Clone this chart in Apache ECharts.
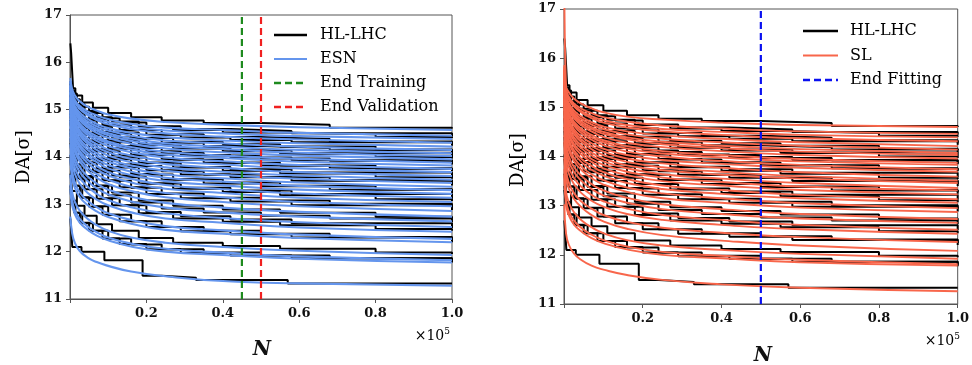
<!DOCTYPE html>
<html>
<head>
<meta charset="utf-8">
<script src="https://cdn.jsdelivr.net/npm/echarts@6/dist/echarts.min.js"></script>
<style>
html,body{margin:0;padding:0;background:#fff;}
#chart{width:972px;height:365px;}
</style>
</head>
<body>
<div id="chart"></div>
<script>
// N in units of 1e5
const N_SAMPLES = [0.001, 0.005, 0.012, 0.025, 0.045, 0.07, 0.1, 0.16, 0.25, 0.4, 0.6, 1.0];

// step positions of the HL-LHC staircases
const STEPS_TOP = [0.001, 0.003, 0.008, 0.014, 0.032, 0.06, 0.1, 0.16, 0.24, 0.35, 0.5, 0.68, 1.0];
const STEPS_A = [0.001, 0.005, 0.014, 0.032, 0.06, 0.1, 0.16, 0.24, 0.35, 0.5, 0.68, 1.0];
const STEPS_B = [0.001, 0.004, 0.011, 0.026, 0.05, 0.085, 0.13, 0.2, 0.29, 0.42, 0.58, 1.0];
const STEPS_C = [0.001, 0.006, 0.018, 0.038, 0.07, 0.11, 0.18, 0.27, 0.4, 0.55, 0.8, 1.0];
const STEPS_LOW = [0.001, 0.006, 0.03, 0.09, 0.19, 0.24, 0.33, 0.57, 1.0];

const hlLhcN = [STEPS_TOP, STEPS_B, STEPS_C, STEPS_A, STEPS_B, STEPS_C, STEPS_A, STEPS_B, STEPS_C, STEPS_A,
  STEPS_B, STEPS_C, STEPS_A, STEPS_B, STEPS_C, STEPS_A, STEPS_B, STEPS_C, STEPS_A, STEPS_B,
  STEPS_C, STEPS_A, STEPS_B, STEPS_C, STEPS_A, STEPS_B, STEPS_C, STEPS_A, STEPS_B, STEPS_C,
  STEPS_A, STEPS_B, STEPS_LOW];

// HL-LHC DA values at each step
const hlLhcDA = [
  [16.4, 16.2, 15.45, 15.3, 15.15, 15.04, 14.93, 14.84, 14.77, 14.72, 14.68, 14.62, 14.6],
  [15.59, 15.41, 15.22, 15.06, 14.93, 14.82, 14.73, 14.65, 14.59, 14.55, 14.5, 14.44],
  [15.6, 15.34, 15.12, 14.97, 14.84, 14.75, 14.64, 14.57, 14.52, 14.48, 14.42, 14.4],
  [15.58, 15.32, 15.11, 14.93, 14.8, 14.67, 14.57, 14.48, 14.42, 14.38, 14.33, 14.28],
  [15.54, 15.33, 15.12, 14.94, 14.8, 14.67, 14.57, 14.47, 14.41, 14.36, 14.31, 14.24],
  [15.48, 15.18, 14.94, 14.77, 14.63, 14.52, 14.4, 14.32, 14.27, 14.22, 14.16, 14.13],
  [15.48, 15.2, 14.98, 14.78, 14.64, 14.5, 14.39, 14.3, 14.23, 14.19, 14.14, 14.08],
  [15.45, 15.22, 14.99, 14.78, 14.62, 14.48, 14.36, 14.26, 14.19, 14.14, 14.08, 14.0],
  [15.47, 15.14, 14.87, 14.68, 14.53, 14.41, 14.27, 14.18, 14.12, 14.07, 14.0, 13.97],
  [15.36, 15.06, 14.82, 14.61, 14.46, 14.31, 14.19, 14.09, 14.03, 13.97, 13.92, 13.86],
  [15.39, 15.14, 14.89, 14.68, 14.51, 14.35, 14.23, 14.12, 14.04, 13.99, 13.93, 13.84],
  [15.32, 14.97, 14.68, 14.48, 14.31, 14.18, 14.04, 13.94, 13.88, 13.82, 13.75, 13.72],
  [15.3, 14.98, 14.72, 14.5, 14.34, 14.18, 14.05, 13.95, 13.88, 13.82, 13.76, 13.7],
  [15.23, 14.97, 14.7, 14.47, 14.29, 14.12, 13.99, 13.88, 13.79, 13.74, 13.67, 13.58],
  [15.24, 14.87, 14.56, 14.35, 14.17, 14.03, 13.88, 13.78, 13.71, 13.65, 13.57, 13.54],
  [15.14, 14.8, 14.53, 14.29, 14.12, 13.95, 13.81, 13.7, 13.63, 13.57, 13.51, 13.44],
  [15.15, 14.87, 14.59, 14.35, 14.15, 13.98, 13.84, 13.72, 13.63, 13.57, 13.5, 13.4],
  [15.03, 14.65, 14.33, 14.11, 13.93, 13.79, 13.63, 13.53, 13.46, 13.39, 13.32, 13.28],
  [15.04, 14.68, 14.39, 14.14, 13.96, 13.78, 13.64, 13.52, 13.44, 13.38, 13.31, 13.24],
  [14.92, 14.63, 14.34, 14.09, 13.89, 13.71, 13.57, 13.44, 13.35, 13.29, 13.22, 13.12],
  [14.92, 14.51, 14.18, 13.95, 13.75, 13.61, 13.44, 13.33, 13.26, 13.19, 13.11, 13.07],
  [14.79, 14.42, 14.12, 13.87, 13.68, 13.5, 13.35, 13.23, 13.14, 13.08, 13.01, 12.94],
  [14.78, 14.48, 14.17, 13.91, 13.7, 13.51, 13.36, 13.22, 13.13, 13.06, 12.98, 12.88],
  [14.6, 14.18, 13.84, 13.6, 13.4, 13.25, 13.08, 12.97, 12.89, 12.82, 12.74, 12.7],
  [14.52, 14.14, 13.84, 13.57, 13.38, 13.19, 13.04, 12.91, 12.83, 12.76, 12.7, 12.62],
  [14.4, 14.1, 13.79, 13.53, 13.32, 13.13, 12.98, 12.84, 12.75, 12.68, 12.6, 12.5],
  [14.29, 13.88, 13.55, 13.32, 13.12, 12.98, 12.81, 12.7, 12.63, 12.56, 12.48, 12.44],
  [14.04, 13.68, 13.39, 13.14, 12.96, 12.78, 12.64, 12.52, 12.44, 12.38, 12.31, 12.24],
  [13.95, 13.67, 13.39, 13.15, 12.95, 12.78, 12.64, 12.52, 12.43, 12.37, 12.3, 12.2],
  [13.65, 13.28, 12.97, 12.76, 12.58, 12.44, 12.29, 12.19, 12.12, 12.06, 11.98, 11.95],
  [13.4, 13.08, 12.82, 12.6, 12.44, 12.28, 12.15, 12.05, 11.98, 11.92, 11.86, 11.8],
  [13.32, 13.07, 12.82, 12.61, 12.44, 12.28, 12.16, 12.05, 11.97, 11.92, 11.86, 11.77],
  [12.7, 12.1, 12.0, 11.82, 11.49, 11.45, 11.4, 11.33, 11.33]
];

// ESN predictions at N_SAMPLES
const esn = [
  [15.67, 15.45, 15.31, 15.18, 15.07, 14.98, 14.9, 14.81, 14.74, 14.68, 14.63, 14.57],
  [15.6, 15.37, 15.22, 15.08, 14.97, 14.88, 14.8, 14.7, 14.62, 14.57, 14.51, 14.45],
  [15.58, 15.34, 15.18, 15.04, 14.92, 14.82, 14.74, 14.64, 14.56, 14.5, 14.44, 14.38],
  [15.6, 15.34, 15.17, 15.02, 14.89, 14.78, 14.69, 14.59, 14.5, 14.43, 14.37, 14.3],
  [15.52, 15.26, 15.09, 14.94, 14.81, 14.7, 14.61, 14.51, 14.42, 14.35, 14.29, 14.22],
  [15.5, 15.23, 15.05, 14.89, 14.76, 14.65, 14.56, 14.45, 14.35, 14.29, 14.22, 14.15],
  [15.48, 15.2, 15.02, 14.85, 14.71, 14.6, 14.5, 14.39, 14.29, 14.22, 14.15, 14.08],
  [15.47, 15.18, 14.99, 14.82, 14.67, 14.56, 14.46, 14.34, 14.24, 14.17, 14.09, 14.02],
  [15.45, 15.15, 14.95, 14.78, 14.63, 14.51, 14.4, 14.28, 14.18, 14.1, 14.03, 13.95],
  [15.38, 15.08, 14.88, 14.71, 14.56, 14.44, 14.33, 14.21, 14.11, 14.03, 13.96, 13.88],
  [15.37, 15.06, 14.86, 14.67, 14.52, 14.39, 14.29, 14.16, 14.05, 13.98, 13.9, 13.82],
  [15.35, 15.03, 14.82, 14.63, 14.47, 14.34, 14.23, 14.1, 13.99, 13.91, 13.83, 13.75],
  [15.28, 14.96, 14.75, 14.56, 14.4, 14.27, 14.16, 14.03, 13.92, 13.84, 13.76, 13.68],
  [15.25, 14.92, 14.71, 14.51, 14.34, 14.21, 14.1, 13.96, 13.85, 13.77, 13.68, 13.6],
  [15.22, 14.88, 14.66, 14.46, 14.29, 14.15, 14.03, 13.89, 13.78, 13.69, 13.61, 13.52],
  [15.15, 14.81, 14.59, 14.39, 14.22, 14.08, 13.96, 13.82, 13.71, 13.62, 13.54, 13.45],
  [15.12, 14.77, 14.54, 14.33, 14.16, 14.02, 13.9, 13.76, 13.63, 13.55, 13.46, 13.37],
  [15.05, 14.7, 14.47, 14.26, 14.09, 13.95, 13.83, 13.69, 13.56, 13.48, 13.39, 13.3],
  [15.02, 14.66, 14.43, 14.21, 14.03, 13.89, 13.76, 13.62, 13.49, 13.4, 13.31, 13.22],
  [14.94, 14.58, 14.35, 14.13, 13.95, 13.81, 13.68, 13.54, 13.41, 13.32, 13.23, 13.14],
  [14.9, 14.53, 14.29, 14.07, 13.88, 13.73, 13.61, 13.46, 13.33, 13.24, 13.14, 13.05],
  [14.81, 14.44, 14.2, 13.98, 13.79, 13.64, 13.52, 13.37, 13.24, 13.15, 13.05, 12.96],
  [14.76, 14.38, 14.13, 13.91, 13.72, 13.56, 13.43, 13.28, 13.15, 13.05, 12.96, 12.86],
  [14.64, 14.26, 14.01, 13.79, 13.6, 13.44, 13.31, 13.16, 13.03, 12.93, 12.84, 12.74],
  [14.54, 14.16, 13.91, 13.69, 13.5, 13.34, 13.21, 13.06, 12.93, 12.83, 12.74, 12.64],
  [14.42, 14.04, 13.79, 13.57, 13.38, 13.22, 13.09, 12.94, 12.81, 12.71, 12.62, 12.52],
  [14.27, 13.9, 13.66, 13.44, 13.25, 13.1, 12.98, 12.83, 12.7, 12.61, 12.51, 12.42],
  [14.07, 13.71, 13.48, 13.26, 13.08, 12.94, 12.81, 12.67, 12.54, 12.45, 12.36, 12.27],
  [13.95, 13.6, 13.37, 13.16, 12.99, 12.85, 12.73, 12.59, 12.46, 12.38, 12.29, 12.2],
  [13.63, 13.29, 13.07, 12.87, 12.7, 12.56, 12.44, 12.3, 12.19, 12.1, 12.02, 11.93],
  [13.42, 13.1, 12.89, 12.7, 12.54, 12.41, 12.3, 12.17, 12.06, 11.98, 11.9, 11.82],
  [13.32, 13.01, 12.81, 12.62, 12.47, 12.34, 12.24, 12.11, 12.0, 11.93, 11.85, 11.77],
  [12.74, 12.42, 12.2, 12.02, 11.88, 11.78, 11.7, 11.58, 11.48, 11.38, 11.33, 11.28]
];

// SL fits at N_SAMPLES
const sl = [
  [17.3, 15.45, 15.31, 15.18, 15.07, 14.98, 14.9, 14.81, 14.75, 14.69, 14.64, 14.6],
  [15.83, 15.38, 15.22, 15.08, 14.97, 14.88, 14.8, 14.71, 14.63, 14.57, 14.51, 14.46],
  [15.82, 15.35, 15.18, 15.04, 14.92, 14.82, 14.74, 14.64, 14.56, 14.5, 14.44, 14.39],
  [15.86, 15.35, 15.17, 15.02, 14.89, 14.78, 14.69, 14.59, 14.51, 14.44, 14.37, 14.31],
  [15.78, 15.27, 15.09, 14.94, 14.81, 14.7, 14.61, 14.51, 14.43, 14.36, 14.29, 14.21],
  [15.77, 15.24, 15.05, 14.89, 14.76, 14.65, 14.56, 14.45, 14.36, 14.29, 14.22, 14.14],
  [15.76, 15.21, 15.02, 14.85, 14.71, 14.6, 14.5, 14.39, 14.3, 14.22, 14.15, 14.07],
  [15.76, 15.19, 14.99, 14.82, 14.67, 14.56, 14.46, 14.35, 14.25, 14.17, 14.1, 14.03],
  [15.75, 15.16, 14.95, 14.78, 14.63, 14.51, 14.4, 14.28, 14.19, 14.11, 14.03, 13.96],
  [15.68, 15.09, 14.88, 14.71, 14.56, 14.44, 14.33, 14.21, 14.11, 14.03, 13.95, 13.87],
  [15.68, 15.07, 14.86, 14.67, 14.52, 14.39, 14.29, 14.16, 14.06, 13.98, 13.9, 13.83],
  [15.67, 15.04, 14.82, 14.63, 14.47, 14.34, 14.23, 14.1, 14.0, 13.91, 13.83, 13.74],
  [15.6, 14.97, 14.75, 14.56, 14.4, 14.27, 14.16, 14.03, 13.93, 13.85, 13.77, 13.69],
  [15.58, 14.93, 14.71, 14.51, 14.34, 14.21, 14.1, 13.96, 13.86, 13.77, 13.68, 13.59],
  [15.56, 14.89, 14.66, 14.46, 14.29, 14.15, 14.03, 13.89, 13.78, 13.69, 13.6, 13.51],
  [15.49, 14.82, 14.59, 14.39, 14.22, 14.08, 13.96, 13.82, 13.72, 13.63, 13.55, 13.46],
  [15.47, 14.78, 14.54, 14.33, 14.16, 14.02, 13.9, 13.76, 13.64, 13.55, 13.46, 13.36],
  [15.4, 14.71, 14.47, 14.26, 14.09, 13.95, 13.83, 13.69, 13.57, 13.48, 13.39, 13.31],
  [15.38, 14.67, 14.43, 14.21, 14.03, 13.89, 13.76, 13.62, 13.5, 13.41, 13.32, 13.23],
  [15.3, 14.59, 14.35, 14.13, 13.95, 13.81, 13.68, 13.54, 13.41, 13.32, 13.22, 13.13],
  [15.27, 14.54, 14.29, 14.07, 13.88, 13.73, 13.61, 13.46, 13.34, 13.24, 13.15, 13.06],
  [15.18, 14.45, 14.2, 13.98, 13.79, 13.64, 13.52, 13.37, 13.25, 13.15, 13.05, 12.95],
  [15.14, 14.39, 14.13, 13.91, 13.72, 13.56, 13.43, 13.28, 13.15, 13.06, 12.96, 12.87],
  [15.02, 14.27, 14.01, 13.79, 13.6, 13.44, 13.31, 13.16, 13.03, 12.93, 12.83, 12.73],
  [14.92, 14.17, 13.91, 13.69, 13.5, 13.34, 13.21, 13.06, 12.93, 12.83, 12.74, 12.65],
  [14.8, 14.05, 13.79, 13.57, 13.38, 13.22, 13.09, 12.94, 12.81, 12.71, 12.61, 12.51],
  [14.64, 13.91, 13.66, 13.44, 13.25, 13.1, 12.98, 12.83, 12.71, 12.61, 12.52, 12.43],
  [14.43, 13.72, 13.48, 13.26, 13.08, 12.94, 12.81, 12.67, 12.55, 12.45, 12.36, 12.26],
  [14.3, 13.6, 13.35, 13.14, 12.96, 12.81, 12.68, 12.53, 12.4, 12.29, 12.19, 12.08],
  [13.97, 13.3, 13.07, 12.87, 12.7, 12.56, 12.44, 12.3, 12.19, 12.1, 12.02, 11.92],
  [13.74, 13.11, 12.89, 12.7, 12.54, 12.41, 12.3, 12.17, 12.06, 11.98, 11.9, 11.81],
  [13.63, 13.02, 12.81, 12.62, 12.47, 12.34, 12.24, 12.11, 12.0, 11.93, 11.85, 11.78],
  [13.03, 12.44, 12.21, 12.03, 11.89, 11.78, 11.7, 11.59, 11.49, 11.4, 11.33, 11.26]
];

const END_TRAINING = 0.45;
const END_VALIDATION = 0.5;
const END_FITTING = 0.5;
const Y_RANGE = [11, 17];
const LEGEND_LEFT = ['HL-LHC', 'ESN', 'End Training', 'End Validation'];
const LEGEND_RIGHT = ['HL-LHC', 'SL', 'End Fitting'];

const FONT = 'DejaVu Serif';
const TXT = '#111';
const chart = echarts.init(document.getElementById('chart'), null, {renderer: 'canvas'});

function axisPair(gi) {
  return {
    x: {
      type: 'value', gridIndex: gi, min: 0, max: 1, interval: 0.2,
      axisLine: {show: true, onZero: false, lineStyle: {color: '#555', width: 1}},
      axisTick: {show: true, length: 4, lineStyle: {color: '#555'}},
      splitLine: {show: false},
      axisLabel: {fontFamily: FONT, fontSize: 13, fontWeight: 'bold', color: TXT, margin: 8,
        formatter: v => v === 0 ? '' : v.toFixed(1)}
    },
    y: {
      type: 'value', gridIndex: gi, min: Y_RANGE[0], max: Y_RANGE[1], interval: 1,
      axisLine: {show: true, onZero: false, lineStyle: {color: '#555', width: 1}},
      axisTick: {show: true, length: 4, lineStyle: {color: '#555'}},
      splitLine: {show: false},
      axisLabel: {fontFamily: FONT, fontSize: 13, fontWeight: 'bold', color: TXT, margin: 8}
    }
  };
}
const a0 = axisPair(0), a1 = axisPair(1);

const BLACK = '#000000', BLUE = '#6495ED', RED = '#F8664B';
const base = {type: 'line', symbol: 'none', showSymbol: false, silent: true, animation: false, clip: true};
const series = [];
function blackSeries(gi, i) {
  return Object.assign({}, base, {
    name: 'HL-LHC', xAxisIndex: gi, yAxisIndex: gi, step: 'end',
    data: hlLhcN[i].map((n, j) => [n, hlLhcDA[i][j]]),
    lineStyle: {color: BLACK, width: 2}
  });
}
function modelSeries(gi, i, model, name, color, w) {
  return Object.assign({}, base, {
    name: name, xAxisIndex: gi, yAxisIndex: gi, smooth: 0.5,
    data: N_SAMPLES.map((n, j) => [n, model[i][j]]),
    lineStyle: {color: color, width: w}
  });
}
for (let i = 0; i < hlLhcDA.length; i++) series.push(blackSeries(0, i));
for (let i = 0; i < esn.length; i++) series.push(modelSeries(0, i, esn, 'ESN', BLUE, 2.1));
for (let i = 0; i < hlLhcDA.length; i++) series.push(blackSeries(1, i));
for (let i = 0; i < sl.length; i++) series.push(modelSeries(1, i, sl, 'SL', RED, 1.9));

function vline(gi, name, x, color) {
  return Object.assign({}, base, {
    name: name, xAxisIndex: gi, yAxisIndex: gi,
    data: [[x, Y_RANGE[0]], [x, Y_RANGE[1]]],
    lineStyle: {color: color, width: 2.2, type: [7, 4]}
  });
}
series.push(vline(0, 'End Training', END_TRAINING, '#1E8A1E'));
series.push(vline(0, 'End Validation', END_VALIDATION, '#F02020'));
series.push(vline(1, 'End Fitting', END_FITTING, '#0A10F0'));

const legendStyles = {
  'HL-LHC': {stroke: BLACK, lineWidth: 2.6},
  'ESN': {stroke: BLUE, lineWidth: 1.8},
  'SL': {stroke: RED, lineWidth: 1.8},
  'End Training': {stroke: '#1E8A1E', lineWidth: 2.4, lineDash: [7, 4]},
  'End Validation': {stroke: '#F02020', lineWidth: 2.4, lineDash: [7, 4]},
  'End Fitting': {stroke: '#0A10F0', lineWidth: 2.4, lineDash: [7, 4]}
};
function legendGraphics(names, x0, x1, tx, y0, dy) {
  const out = [];
  names.forEach((nm, k) => {
    const y = y0 + k * dy;
    out.push({type: 'line', shape: {x1: x0, y1: y, x2: x1, y2: y}, style: legendStyles[nm], silent: true});
    out.push({type: 'text', x: tx, y: y, style: {text: nm, fontFamily: FONT, fontSize: 16, fill: '#000', verticalAlign: 'middle'}, silent: true});
  });
  return out;
}

const graphics = [].concat(
  legendGraphics(LEGEND_LEFT, 274, 307, 320, 35, 24),
  legendGraphics(LEGEND_RIGHT, 803, 838, 850, 31, 24.5),
  [
    {type: 'text', x: 24, y: 157, rotation: Math.PI / 2,
      style: {text: 'DA[σ]', fontFamily: FONT, fontSize: 18, fill: '#000', align: 'center', verticalAlign: 'middle'}},
    {type: 'text', x: 518, y: 160, rotation: Math.PI / 2,
      style: {text: 'DA[σ]', fontFamily: FONT, fontSize: 18, fill: '#000', align: 'center', verticalAlign: 'middle'}},
    {type: 'text', x: 262, y: 350,
      style: {text: 'N', fontFamily: FONT, fontSize: 20, fontStyle: 'italic', fontWeight: 'bold', fill: TXT, align: 'center', verticalAlign: 'middle'}},
    {type: 'text', x: 763, y: 356,
      style: {text: 'N', fontFamily: FONT, fontSize: 20, fontStyle: 'italic', fontWeight: 'bold', fill: TXT, align: 'center', verticalAlign: 'middle'}},
    {type: 'text', x: 450, y: 336,
      style: {text: '{a|×10}{b|5}', align: 'right', verticalAlign: 'middle',
        rich: {a: {fontFamily: FONT, fontSize: 14, color: TXT}, b: {fontFamily: FONT, fontSize: 9, color: TXT, padding: [0, 0, 9, 0]}}}},
    {type: 'text', x: 960, y: 341,
      style: {text: '{a|×10}{b|5}', align: 'right', verticalAlign: 'middle',
        rich: {a: {fontFamily: FONT, fontSize: 14, color: TXT}, b: {fontFamily: FONT, fontSize: 9, color: TXT, padding: [0, 0, 9, 0]}}}}
  ]
);

chart.setOption({
  backgroundColor: '#fff',
  animation: false,
  grid: [
    {left: 70, top: 15, width: 382, height: 284, show: true, borderColor: '#555', borderWidth: 1, backgroundColor: 'transparent'},
    {left: 564, top: 9, width: 397, height: 295, show: true, borderColor: '#555', borderWidth: 1, backgroundColor: 'transparent'}
  ],
  xAxis: [a0.x, a1.x],
  yAxis: [a0.y, a1.y],
  graphic: graphics,
  series: series
});
</script>
</body>
</html>
